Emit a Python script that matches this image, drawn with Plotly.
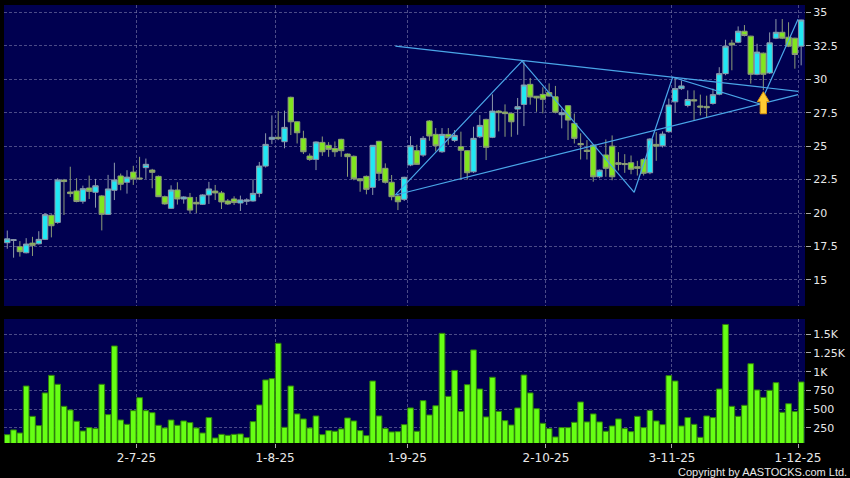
import pandas as pd
import plotly.graph_objects as go

# ---------------- data ----------------
holidays = ["2025-07-01", "2025-10-01", "2025-10-07", "2025-10-29"]
dates = [d for d in pd.bdate_range("2025-06-02", "2025-12-01")
         if d.strftime("%Y-%m-%d") not in holidays]

open_ = [17.78, 17.95, 17.48, 17.03, 17.75, 17.70, 18.03, 19.83, 19.30, 22.46,
         21.57, 21.65, 20.88, 21.87, 21.55, 21.28, 19.90, 21.70, 22.77, 22.30,
         23.06, 22.62, 23.39, 23.21, 22.74, 21.22, 20.35, 21.72, 21.05, 21.17,
         20.80, 20.65, 21.35, 21.64, 21.50, 20.90, 21.05, 20.75, 20.88, 20.90,
         21.47, 23.51, 25.51, 25.66, 25.33, 28.65, 26.82, 25.58, 24.26, 24.01,
         25.28, 25.06, 24.83, 25.51, 24.41, 24.24, 22.56, 22.74, 21.92, 25.36,
         23.34, 22.30, 21.27, 21.02, 23.59, 24.66, 24.33, 26.88, 25.88, 24.58,
         25.88, 25.43, 24.96, 24.66, 23.08, 25.70, 27.00, 25.66, 27.62, 27.55,
         27.45, 27.77, 28.12, 29.62, 28.73, 28.87, 29.00, 28.69, 27.35, 28.02,
         26.70, 25.20, 24.70, 25.08, 22.71, 24.34, 25.00, 23.76, 23.70, 23.76,
         23.46, 24.01, 23.01, 25.13, 25.03, 26.08, 28.31, 29.30, 28.04, 28.47,
         28.00, 27.97, 28.19, 28.88, 30.42, 32.70, 32.77, 33.59, 33.22, 30.37,
         31.95, 30.47, 33.07, 33.51, 33.14, 33.07, 32.47]
high = [18.69, 18.05, 17.90, 18.12, 18.22, 18.64, 20.00, 19.90, 22.60, 22.55,
        23.46, 22.60, 22.05, 22.80, 22.55, 21.35, 22.85, 23.76, 22.95, 23.20,
        23.53, 24.20, 24.07, 23.30, 22.80, 21.30, 22.07, 22.30, 21.25, 21.50,
        21.20, 21.40, 22.33, 22.10, 21.65, 21.05, 21.25, 21.30, 21.10, 22.52,
        23.82, 25.96, 27.30, 27.62, 27.65, 28.70, 26.85, 26.15, 24.45, 25.35,
        25.72, 25.30, 25.35, 25.55, 24.45, 24.30, 22.60, 22.80, 25.08, 25.40,
        23.71, 22.84, 21.40, 22.71, 25.75, 25.10, 25.75, 26.95, 26.35, 26.35,
        26.35, 26.20, 26.08, 24.70, 26.45, 27.32, 27.05, 28.87, 27.70, 28.12,
        27.50, 28.60, 31.36, 30.10, 28.75, 29.40, 29.69, 29.50, 27.80, 28.05,
        27.44, 25.96, 25.45, 25.10, 23.25, 25.50, 25.80, 24.55, 24.40, 24.30,
        23.90, 24.10, 25.60, 26.05, 26.10, 28.55, 30.10, 29.90, 29.17, 29.17,
        28.85, 28.77, 29.30, 30.90, 32.95, 32.95, 33.95, 34.05, 33.25, 32.65,
        32.00, 33.50, 34.50, 34.50, 34.26, 33.10, 34.45]
low = [17.33, 16.66, 16.74, 16.98, 16.79, 17.65, 17.98, 18.18, 19.20, 19.85,
       21.20, 20.80, 20.70, 21.05, 20.40, 18.70, 19.85, 20.97, 21.70, 21.45,
       22.10, 22.47, 22.55, 21.85, 21.20, 20.62, 20.30, 20.63, 20.70, 20.00,
       20.00, 20.60, 20.68, 20.97, 20.30, 20.60, 20.60, 20.15, 20.60, 20.85,
       21.18, 23.40, 25.15, 25.45, 24.84, 25.83, 25.20, 24.41, 23.90, 23.21,
       24.27, 24.20, 24.20, 24.20, 22.71, 22.45, 21.59, 21.40, 21.35, 22.40,
       22.20, 20.95, 20.22, 20.90, 23.50, 23.60, 24.20, 25.40, 24.60, 24.50,
       25.10, 25.30, 22.47, 22.50, 23.00, 25.60, 23.96, 25.60, 26.10, 25.70,
       25.70, 25.85, 26.50, 28.10, 27.57, 27.45, 28.70, 27.45, 26.33, 25.46,
       25.20, 24.00, 24.00, 22.34, 22.60, 22.71, 22.45, 23.18, 23.00, 22.90,
       22.80, 22.80, 22.90, 23.90, 24.90, 26.00, 27.50, 29.20, 27.90, 26.92,
       27.30, 27.10, 28.10, 28.80, 30.30, 30.67, 32.70, 33.20, 29.67, 30.30,
       29.18, 30.40, 33.00, 33.00, 32.40, 30.79, 31.04]
close = [18.07, 18.00, 17.11, 17.68, 17.58, 18.03, 19.88, 19.05, 22.47, 22.35,
         21.45, 20.86, 21.82, 21.62, 22.04, 19.90, 21.80, 22.47, 22.15, 22.68,
         22.54, 22.55, 23.64, 23.04, 21.22, 20.68, 21.72, 21.05, 21.20, 20.22,
         20.68, 21.35, 21.80, 21.50, 20.83, 20.68, 20.78, 20.98, 20.98, 21.47,
         23.51, 25.13, 25.66, 25.55, 26.40, 26.82, 26.00, 24.58, 24.01, 25.31,
         24.58, 24.76, 24.58, 24.66, 24.21, 22.56, 22.41, 21.77, 25.06, 22.97,
         22.30, 21.22, 20.84, 22.67, 25.03, 23.64, 25.58, 25.76, 25.03, 25.88,
         25.63, 25.80, 24.69, 23.01, 25.58, 26.55, 24.91, 27.62, 27.50, 27.43,
         26.82, 27.95, 29.57, 28.67, 28.60, 28.50, 28.74, 27.53, 27.50, 26.95,
         25.58, 25.10, 24.60, 22.71, 23.20, 23.34, 22.71, 23.64, 23.62, 23.27,
         23.34, 22.97, 25.53, 25.00, 25.90, 28.07, 29.30, 29.50, 28.48, 28.38,
         27.92, 27.87, 28.85, 30.42, 32.47, 32.57, 33.59, 33.27, 30.37, 32.03,
         30.37, 32.72, 33.51, 33.07, 32.47, 31.85, 34.43]
volume = [157, 220, 179, 808, 402, 278, 715, 951, 831, 536,
          487, 336, 206, 251, 238, 831, 425, 1344, 353, 295,
          478, 652, 478, 451, 282, 246, 353, 282, 340, 318,
          246, 179, 385, 112, 161, 148, 161, 166, 117, 331,
          554, 889, 907, 1380, 255, 808, 434, 367, 246, 407,
          157, 211, 202, 233, 380, 340, 211, 144, 875, 407,
          238, 193, 197, 291, 514, 202, 612, 420, 544, 1513,
          669, 1017, 466, 826, 1291, 768, 394, 925, 469, 344,
          286, 514, 955, 715, 505, 309, 238, 126, 251, 251,
          322, 594, 327, 434, 327, 202, 273, 367, 238, 197,
          402, 251, 482, 340, 291, 947, 875, 273, 385, 295,
          121, 407, 385, 768, 1632, 536, 402, 550, 1107, 755,
          656, 750, 853, 456, 571, 466, 862]

tick_dates = ["2025-07-02", "2025-08-01", "2025-09-01", "2025-10-02", "2025-11-03", "2025-12-01"]
tick_labels = ["2-7-25", "1-8-25", "1-9-25", "2-10-25", "3-11-25", "1-12-25"]

price_ticks = [15, 17.5, 20, 22.5, 25, 27.5, 30, 32.5, 35]
price_tick_text = ["15", "17.5", "20", "22.5", "25", "27.5", "30", "32.5", "35"]
vol_ticks = [250, 500, 750, 1000, 1250, 1500]
vol_tick_text = ["250", "500", "750", "1K", "1.25K", "1.5K"]

# drawn trend lines (trading-day index, price)
upper_x = [61.6, 125.5]
upper_y = [32.47, 29.10]
lower_x = [61.6, 125.5]
lower_y = [21.35, 28.85]
zigzag_x = [61.6, 81.7, 99.5, 105.6, 119.5, 125.5]
zigzag_y = [21.35, 31.36, 21.55, 30.15, 28.15, 34.48]
signal_idx = 120
signal_price = 29.07

# ---------------- figure ----------------
x = list(range(len(dates)))
date_str = [d.strftime("%Y-%m-%d") for d in dates]
tickvals = [date_str.index(t) - 0.5 for t in tick_dates]

CYAN = "#20e8f4"
GREEN = "#80e61f"
GRID = "rgba(115,115,165,0.65)"
TXT = "#e8e8e8"
LINE = "#4aa6e8"

fig = go.Figure()
fig.add_trace(go.Candlestick(
    x=x, open=open_, high=high, low=low, close=close,
    increasing=dict(fillcolor=CYAN, line=dict(color="#8d99aa", width=1)),
    decreasing=dict(fillcolor=GREEN, line=dict(color="#8c9c78", width=1)),
    whiskerwidth=0, xaxis="x", yaxis="y", hoverinfo="skip", showlegend=False))

for lx, ly in [(upper_x, upper_y), (lower_x, lower_y), (zigzag_x, zigzag_y)]:
    fig.add_trace(go.Scatter(x=lx, y=ly, mode="lines", line=dict(color=LINE, width=1.2),
                             xaxis="x", yaxis="y", hoverinfo="skip", showlegend=False))

# buy-signal arrow
hw, sw, hh, th = 0.95, 0.5, 0.75, 1.65
s, p = signal_idx, signal_price
ax = [s, s + hw, s + sw, s + sw, s - sw, s - sw, s - hw, s]
ay = [p, p - hh, p - hh, p - th, p - th, p - hh, p - hh, p]
fig.add_trace(go.Scatter(x=ax, y=ay, mode="lines", fill="toself", fillcolor="#ffcc33",
                         line=dict(color="#d99410", width=1), xaxis="x", yaxis="y",
                         hoverinfo="skip", showlegend=False))

fig.add_trace(go.Bar(x=x, y=volume, marker=dict(color="#66ff14", line=dict(color="#2f7f0c", width=1)),
                     xaxis="x2", yaxis="y2", hoverinfo="skip", showlegend=False))

xr = [-0.52, 126.61]
common_grid = dict(showgrid=True, gridcolor=GRID, griddash="3px,2px", gridwidth=1, zeroline=False)

fig.update_layout(
    width=850, height=478,
    margin=dict(l=4, r=42, t=5, b=35),
    paper_bgcolor="black", plot_bgcolor="#000050",
    boxgap=0.15, boxgroupgap=0, bargap=0.1,
    font=dict(family="DejaVu Sans", color=TXT, size=12),
    xaxis=dict(domain=[0, 1], range=xr, anchor="y", tickvals=tickvals, showticklabels=False,
               ticks="", rangeslider=dict(visible=False), showline=False, **common_grid),
    yaxis=dict(domain=[0.3128, 1], range=[13.05, 35.55], side="right", anchor="x",
               tickvals=price_ticks, ticktext=price_tick_text, ticks="outside", ticklen=5,
               tickcolor="#aaaaaa", tickfont=dict(size=11, color=TXT), showline=False, **common_grid),
    xaxis2=dict(domain=[0, 1], range=xr, anchor="y2", tickvals=tickvals, ticktext=tick_labels,
                ticks="outside", ticklen=4, tickcolor="#aaaaaa", tickfont=dict(size=12, color=TXT),
                showline=False, **common_grid),
    yaxis2=dict(domain=[0, 0.2831], range=[45, 1705], side="right", anchor="x2",
                tickvals=vol_ticks, ticktext=vol_tick_text, ticks="outside", ticklen=5,
                tickcolor="#aaaaaa", tickfont=dict(size=11, color=TXT), showline=False, **common_grid),
    annotations=[dict(text="Copyright by AASTOCKS.com Ltd.", xref="paper", yref="paper",
                      x=1.055, y=-0.0655, xanchor="right", yanchor="middle", showarrow=False,
                      font=dict(family="Liberation Sans", size=11, color=TXT))],
)

fig.write_html("out.html", config={"displayModeBar": False},
               post_script="document.body.style.margin='0px';document.body.style.background='black';")
